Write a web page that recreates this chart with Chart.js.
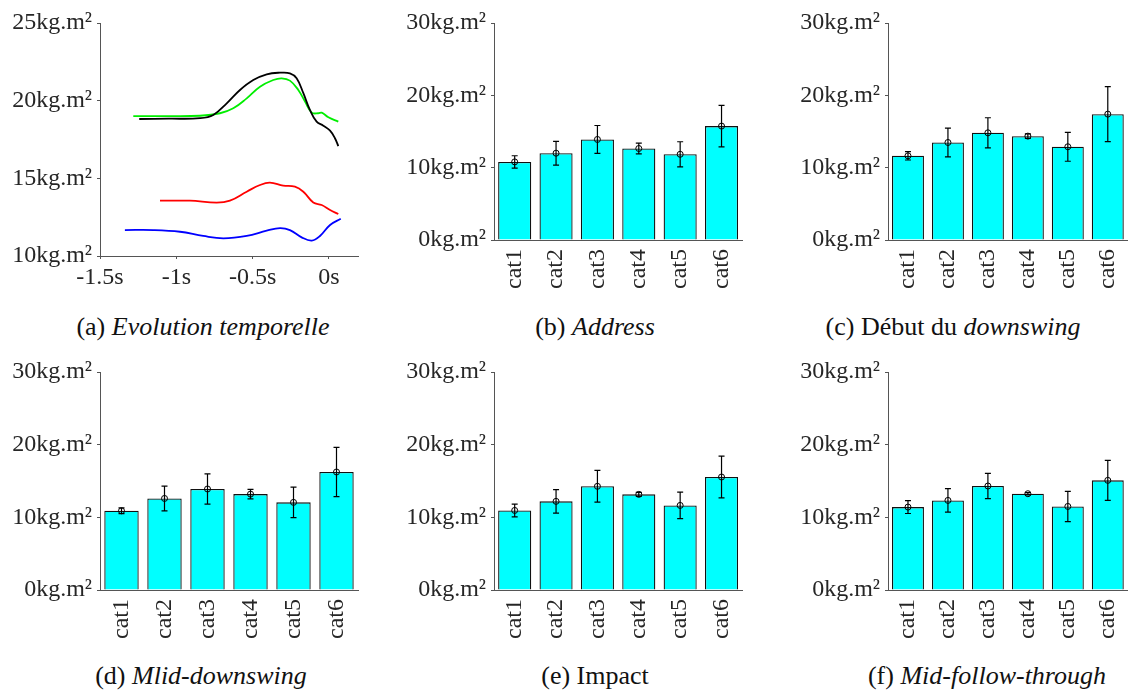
<!DOCTYPE html>
<html>
<head>
<meta charset="utf-8">
<script src="https://cdn.jsdelivr.net/npm/chart.js@4/dist/chart.umd.min.js"></script>
<style>
  body { margin: 0; background: #fff; width: 1146px; height: 691px; position: relative; overflow: hidden; }
  canvas { position: absolute; }
  .cap { position: absolute; width: 420px; text-align: center; font-size: 26px; font-family: "Liberation Serif", "Times New Roman", serif; color: #111; line-height: 24px; white-space: nowrap; }
</style>
</head>
<body>
<canvas id="a"></canvas>
<canvas id="b"></canvas>
<canvas id="c"></canvas>
<canvas id="d"></canvas>
<canvas id="e"></canvas>
<canvas id="f"></canvas>

<div class="cap" style="left:-7px;top:315px">(a) <i>Evolution temporelle</i></div>
<div class="cap" style="left:385px;top:315px">(b) <i>Address</i></div>
<div class="cap" style="left:743px;top:315px">(c) Début du <i>downswing</i></div>
<div class="cap" style="left:-9px;top:664px">(d) <i>Mlid-downswing</i></div>
<div class="cap" style="left:385px;top:664px">(e) Impact</div>
<div class="cap" style="left:777px;top:664px">(f) <i>Mid-follow-through</i></div>

<script>
// tick values
const timeTicks = [-1.5, -1, -0.5, 0]
const inertiaTicks = [10, 15, 20, 25]
const kgTicks = [0, 10, 20, 30]
const categories = ["cat1", "cat2", "cat3", "cat4", "cat5", "cat6"]

// (a) curves, [time s, inertia kg.m2]
const blackCurve = [[-1.243, 18.82], [-1.05, 18.84], [-0.845, 18.87], [-0.758, 19.08], [-0.67, 19.83], [-0.583, 20.69], [-0.496, 21.33], [-0.408, 21.7], [-0.321, 21.8], [-0.256, 21.76], [-0.212, 21.44], [-0.168, 20.48], [-0.125, 19.4], [-0.081, 18.65], [-0.037, 18.39], [0.007, 18.07], [0.039, 17.58], [0.061, 17.08]]
const greenCurve = [[-1.282, 19.01], [-1.05, 19.0], [-0.845, 19.03], [-0.714, 19.19], [-0.627, 19.51], [-0.539, 20.15], [-0.452, 20.9], [-0.365, 21.33], [-0.31, 21.44], [-0.256, 21.29], [-0.201, 20.69], [-0.157, 19.94], [-0.113, 19.23], [-0.07, 19.19], [-0.048, 19.23], [-0.004, 18.93], [0.061, 18.65]]
const redCurve = [[-1.107, 13.56], [-0.911, 13.56], [-0.736, 13.43], [-0.649, 13.56], [-0.539, 14.14], [-0.452, 14.57], [-0.387, 14.72], [-0.3, 14.53], [-0.223, 14.46], [-0.168, 14.14], [-0.103, 13.45], [-0.048, 13.28], [0.007, 12.96], [0.061, 12.7]]
const blueCurve = [[-1.337, 11.67], [-1.151, 11.67], [-0.976, 11.56], [-0.824, 11.29], [-0.692, 11.14], [-0.539, 11.29], [-0.408, 11.63], [-0.321, 11.8], [-0.256, 11.67], [-0.179, 11.2], [-0.113, 10.99], [-0.059, 11.29], [0.007, 12.0], [0.077, 12.4]]

// (b)-(f) mean and standard deviation per category
const addressMean = [10.8, 12.0, 13.9, 12.65, 11.85, 15.75]
const addressSd = [0.85, 1.64, 1.93, 0.74, 1.73, 2.87]
const debutMean = [11.64, 13.48, 14.82, 14.36, 12.89, 17.4]
const debutSd = [0.58, 2.0, 2.08, 0.32, 2.0, 3.8]
const midDownMean = [10.9, 12.6, 13.9, 13.2, 12.06, 16.24]
const midDownSd = [0.39, 1.7, 2.08, 0.65, 2.09, 3.38]
const impactMean = [10.95, 12.2, 14.27, 13.16, 11.64, 15.55]
const impactSd = [0.88, 1.61, 2.19, 0.28, 1.82, 2.87]
const followMean = [11.41, 12.33, 14.31, 13.25, 11.5, 15.09]
const followSd = [0.88, 1.61, 1.73, 0.15, 2.08, 2.76]

const FONT = { family: "'Liberation Serif', 'Times New Roman', serif", size: 24 }
const TEXT = "#262626"
const AXIS = "#555"

// canvas box and plot area, page coordinates
const frames = {
  a: { x: 0, y: 0, w: 380, h: 300, l: 100, t: 23, r: 358, b: 256 },
  b: { x: 380, y: 0, w: 380, h: 300, l: 494, t: 23, r: 752, b: 240 },
  c: { x: 760, y: 0, w: 386, h: 300, l: 888, t: 23, r: 1146, b: 240 },
  d: { x: 0, y: 345, w: 380, h: 300, l: 100, t: 372, r: 358, b: 590 },
  e: { x: 380, y: 345, w: 380, h: 300, l: 494, t: 372, r: 752, b: 590 },
  f: { x: 760, y: 345, w: 386, h: 300, l: 888, t: 372, r: 1146, b: 590 }
}

const errorBars = {
  id: "errorBars",
  afterDatasetDraw(chart, args, opts) {
    if (args.index !== 0) return
    const { ctx, scales } = chart
    ctx.save()
    ctx.strokeStyle = "#000"
    ctx.lineWidth = 1.2
    opts.mean.forEach((m, i) => {
      const x = scales.x.getPixelForValue(i)
      const top = scales.y.getPixelForValue(m + opts.sd[i])
      const bot = scales.y.getPixelForValue(m - opts.sd[i])
      ctx.beginPath()
      ctx.moveTo(x, top); ctx.lineTo(x, bot)
      ctx.moveTo(x - 3, top); ctx.lineTo(x + 3, top)
      ctx.moveTo(x - 3, bot); ctx.lineTo(x + 3, bot)
      ctx.stroke()
    })
    ctx.restore()
  }
}

function setupCanvas(id) {
  const f = frames[id]
  const el = document.getElementById(id)
  el.style.left = f.x + "px"
  el.style.top = f.y + "px"
  el.width = f.w
  el.height = f.h
  return { el, f }
}

function axisStyle() {
  return {
    border: { display: true, color: AXIS, width: 1 },
    grid: { drawOnChartArea: false, drawTicks: true, tickLength: 3, color: AXIS }
  }
}

function baseOptions(f) {
  return {
    responsive: false,
    animation: false,
    devicePixelRatio: 1,
    layout: { padding: { left: 0, bottom: 0, top: f.t - f.y, right: f.x + f.w - f.r } },
    plugins: { legend: { display: false }, tooltip: { enabled: false } }
  }
}

function lineChart(id) {
  const { el, f } = setupCanvas(id)
  const curve = (pts, color) => ({
    data: pts.map(p => ({ x: p[0], y: p[1] })),
    borderColor: color, borderWidth: 1.8, showLine: true, pointRadius: 0, tension: 0.4, fill: false
  })
  new Chart(el, {
    type: "scatter",
    data: {
      datasets: [
        curve(blackCurve, "#000000"),
        curve(greenCurve, "#00ee00"),
        curve(redCurve, "#ff0000"),
        curve(blueCurve, "#0000ff")
      ]
    },
    options: {
      ...baseOptions(f),
      scales: {
        x: {
          type: "linear", min: -1.5, max: 0.19,
          ...axisStyle(),
          afterBuildTicks: s => { s.ticks = timeTicks.map(v => ({ value: v })) },
          afterFit: s => { s.height = f.y + f.h - f.b },
          ticks: { font: FONT, color: TEXT, padding: 4, maxRotation: 0, callback: v => v + "s" }
        },
        y: {
          min: 10, max: 25,
          ...axisStyle(),
          afterBuildTicks: s => { s.ticks = inertiaTicks.map(v => ({ value: v })) },
          afterFit: s => { s.width = f.l - f.x },
          ticks: { font: FONT, color: TEXT, padding: 5, callback: v => v + "kg.m²" }
        }
      }
    }
  })
}

function barChart(id, mean, sd) {
  const { el, f } = setupCanvas(id)
  new Chart(el, {
    type: "bar",
    data: {
      labels: categories,
      datasets: [
        {
          data: mean, order: 2,
          backgroundColor: "#00ffff", borderColor: "#111", borderWidth: 1.3,
          barPercentage: 0.8, categoryPercentage: 1
        },
        {
          type: "line", data: mean, order: 1, showLine: false,
          pointStyle: "circle", pointRadius: 3, borderWidth: 1,
          pointBorderColor: "#000", pointBackgroundColor: "rgba(0,0,0,0)"
        }
      ]
    },
    options: {
      ...baseOptions(f),
      plugins: {
        legend: { display: false }, tooltip: { enabled: false },
        errorBars: { mean, sd }
      },
      scales: {
        x: {
          ...axisStyle(),
          grid: { drawOnChartArea: false, drawTicks: true, tickLength: 0, color: AXIS },
          afterFit: s => { s.height = f.y + f.h - f.b },
          ticks: { font: FONT, color: TEXT, padding: 9, minRotation: 90, maxRotation: 90, autoSkip: false }
        },
        y: {
          min: 0, max: 30,
          ...axisStyle(),
          afterBuildTicks: s => { s.ticks = kgTicks.map(v => ({ value: v })) },
          afterFit: s => { s.width = f.l - f.x },
          ticks: { font: FONT, color: TEXT, padding: 5, callback: v => v + "kg.m²" }
        }
      }
    },
    plugins: [errorBars]
  })
}

lineChart("a")
barChart("b", addressMean, addressSd)
barChart("c", debutMean, debutSd)
barChart("d", midDownMean, midDownSd)
barChart("e", impactMean, impactSd)
barChart("f", followMean, followSd)
</script>
</body>
</html>
